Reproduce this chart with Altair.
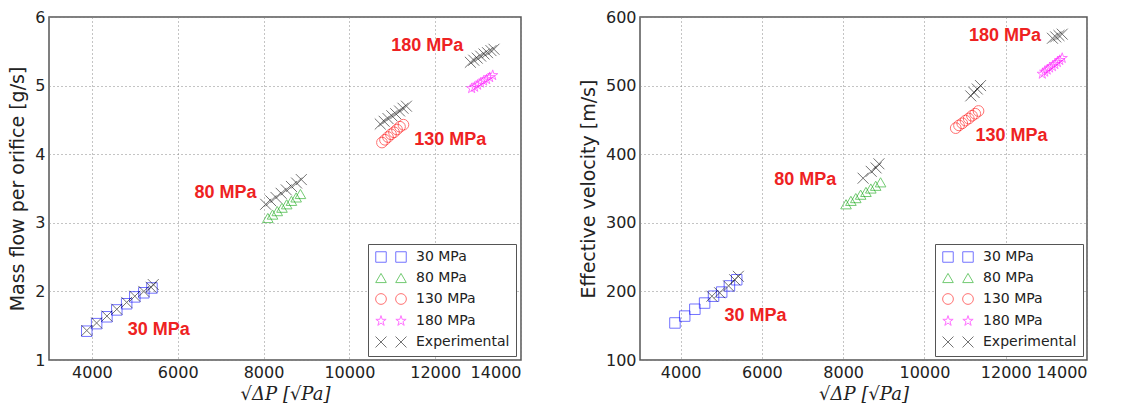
import altair as alt
import pandas as pd

SERIES = ["30 MPa", "80 MPa", "130 MPa", "180 MPa", "Experimental"]
COLORS = ["#0000ff", "#00a000", "#ff0000", "#ff00ff", "#000000"]
STAR = "M0,-1L0.2234,-0.3074L0.9511,-0.309L0.3614,0.1174L0.5878,0.809L0,0.38L-0.5878,0.809L-0.3614,0.1174L-0.9511,-0.309L-0.2234,-0.3074Z"
XMARK = "M-1,-1L1,1M-1,1L1,-1"
SHAPES = ["square", "triangle-up", "circle", STAR, XMARK]
SIZES = [110, 120, 100, 110, 150]

# ---- Left panel: mass flow per orifice [g/s]
mf_sq_x = [3880, 4110, 4350, 4580, 4810, 5000, 5210, 5400]
mf_sq_y = [1.42, 1.53, 1.63, 1.73, 1.82, 1.92, 1.98, 2.05]
mf_exp30_x = [3880, 4110, 4350, 4580, 4810, 5000, 5210, 5380, 5430]
mf_exp30_y = [1.43, 1.54, 1.64, 1.74, 1.84, 1.93, 2.00, 2.06, 2.10]
mf_tri_x = [8100, 8210, 8320, 8430, 8540, 8650, 8760, 8860]
mf_tri_y = [3.07, 3.12, 3.17, 3.22, 3.27, 3.32, 3.37, 3.42]
mf_exp80_x = [8050, 8170, 8290, 8410, 8530, 8650, 8770, 8880]
mf_exp80_y = [3.27, 3.32, 3.37, 3.43, 3.48, 3.53, 3.58, 3.63]
mf_ci_x = [10760, 10830, 10900, 10970, 11040, 11110, 11180, 11260]
mf_ci_y = [4.17, 4.21, 4.25, 4.29, 4.32, 4.36, 4.40, 4.43]
mf_exp130_x = [10720, 10810, 10900, 10990, 11080, 11170, 11250, 11330]
mf_exp130_y = [4.44, 4.48, 4.52, 4.56, 4.59, 4.63, 4.67, 4.70]
mf_st_x = [12850, 12920, 12990, 13060, 13130, 13200, 13270, 13340]
mf_st_y = [4.96, 4.98, 5.01, 5.04, 5.07, 5.09, 5.12, 5.15]
mf_exp180_x = [12820, 12900, 12980, 13060, 13140, 13220, 13300, 13370]
mf_exp180_y = [5.34, 5.37, 5.40, 5.43, 5.46, 5.48, 5.51, 5.53]
mf_lab_text = ["30 MPa", "80 MPa", "130 MPa", "180 MPa"]
mf_lab_x = [5560, 7116, 12350, 11814]
mf_lab_y = [1.44, 3.43, 4.21, 5.58]

# ---- Right panel: effective velocity [m/s]
v_sq_x = [3860, 4100, 4350, 4590, 4810, 5010, 5200, 5380]
v_sq_y = [154, 164, 174, 183, 193, 199, 208, 217]
v_exp30_x = [4770, 4960, 5180, 5330, 5420]
v_exp30_y = [193, 198, 208, 217, 222]
v_tri_x = [8070, 8190, 8310, 8430, 8560, 8680, 8800, 8920]
v_tri_y = [327, 332, 336, 341, 345, 350, 354, 359]
v_exp80_x = [8490, 8690, 8810, 8880]
v_exp80_y = [365, 375, 380, 386]
v_ci_x = [10770, 10850, 10930, 11010, 11090, 11170, 11250, 11330]
v_ci_y = [438, 442, 445, 449, 452, 456, 459, 463]
v_exp130_x = [11140, 11220, 11300, 11380]
v_exp130_y = [485, 490, 495, 500]
v_st_x = [12900, 12960, 13020, 13080, 13150, 13210, 13270, 13330, 13390]
v_st_y = [517, 520, 523, 526, 528, 531, 534, 537, 540]
v_exp180_x = [13150, 13230, 13310, 13390]
v_exp180_y = [569, 571, 573, 575]
v_lab_text = ["30 MPa", "80 MPa", "130 MPa", "180 MPa"]
v_lab_x = [5843, 7069, 12142, 11983]
v_lab_y = [164, 363, 427, 572]


def build_df(groups):
    rows = []
    for name, xs, ys in groups:
        for x, y in zip(xs, ys):
            rows.append({"series": name, "x": x, "y": y})
    return pd.DataFrame(rows)


mf_df = build_df([
    ("30 MPa", mf_sq_x, mf_sq_y), ("80 MPa", mf_tri_x, mf_tri_y),
    ("130 MPa", mf_ci_x, mf_ci_y), ("180 MPa", mf_st_x, mf_st_y),
    ("Experimental", mf_exp30_x, mf_exp30_y), ("Experimental", mf_exp80_x, mf_exp80_y),
    ("Experimental", mf_exp130_x, mf_exp130_y), ("Experimental", mf_exp180_x, mf_exp180_y),
])
v_df = build_df([
    ("30 MPa", v_sq_x, v_sq_y), ("80 MPa", v_tri_x, v_tri_y),
    ("130 MPa", v_ci_x, v_ci_y), ("180 MPa", v_st_x, v_st_y),
    ("Experimental", v_exp30_x, v_exp30_y), ("Experimental", v_exp80_x, v_exp80_y),
    ("Experimental", v_exp130_x, v_exp130_y), ("Experimental", v_exp180_x, v_exp180_y),
])
mf_lab = pd.DataFrame({"t": mf_lab_text, "x": mf_lab_x, "y": mf_lab_y})
v_lab = pd.DataFrame({"t": v_lab_text, "x": v_lab_x, "y": v_lab_y})


def panel(df, lab, ydom, yticks, ytitle, width, legx, legy):
    xenc = alt.X("x:Q", scale=alt.Scale(domain=[3000, 14000], nice=False),
                 axis=alt.Axis(values=[4000, 6000, 8000, 10000, 12000, 14000], format="d",
                               title="√ΔP   [√Pa]"))
    yenc = alt.Y("y:Q", scale=alt.Scale(domain=ydom, nice=False, zero=False),
                 axis=alt.Axis(values=yticks, format="d", title=ytitle))

    def enc(legend):
        return dict(
            color=alt.Color("series:N", scale=alt.Scale(domain=SERIES, range=COLORS), legend=legend),
            shape=alt.Shape("series:N", scale=alt.Scale(domain=SERIES, range=SHAPES), legend=legend),
            size=alt.Size("series:N", scale=alt.Scale(domain=SERIES, range=SIZES), legend=legend),
        )

    leg_box = alt.Legend(orient="none", legendX=legx, legendY=legy, title=None,
                         fillColor="white", strokeColor="#555", padding=6,
                         labelOpacity=0, labelOffset=28, labelFontSize=14,
                         labelFont="DejaVu Sans", rowPadding=6, symbolStrokeWidth=1)
    leg_txt = alt.Legend(orient="none", legendX=legx + 20, legendY=legy, title=None,
                         padding=6, labelOffset=8, labelFontSize=14, labelColor="#222",
                         labelFont="DejaVu Sans", rowPadding=6, symbolStrokeWidth=1)

    pts = alt.Chart(df).mark_point(filled=False, opacity=0.55, strokeWidth=1).encode(
        x=xenc, y=yenc, **enc(leg_box))
    ghost = alt.Chart(df).transform_filter("datum.x < 0").mark_point(
        filled=False, opacity=0.55, strokeWidth=1).encode(x=xenc, y=yenc, **enc(leg_txt))
    txt = alt.Chart(lab).mark_text(font="Liberation Sans", fontWeight="bold", fontSize=18,
                                   color="#ee2222").encode(x="x:Q", y="y:Q", text="t:N")
    return alt.layer(pts, ghost, txt).resolve_scale(
        color="independent", shape="independent", size="independent"
    ).properties(width=width, height=343)


left = panel(mf_df, mf_lab, [1, 6], [1, 2, 3, 4, 5, 6], "Mass flow per orifice  [g/s]", 472, 319, 227)
right = panel(v_df, v_lab, [100, 600], [100, 200, 300, 400, 500, 600], "Effective velocity  [m/s]", 447, 295, 227)

chart = alt.hconcat(left, right, spacing=56).properties(
    padding={"left": 8, "top": 8, "right": 5, "bottom": 5}
).configure(background="white").configure_view(
    stroke="#555", strokeWidth=1.5
).configure_axis(
    labelFont="DejaVu Sans", labelFontSize=16, labelColor="#222", ticks=False,
    labelPadding=4, domain=False, grid=True, gridDash=[1, 3], gridColor="#888",
    titleFont="DejaVu Sans", titleFontSize=19, titleFontWeight="normal", titleColor="#222",
    labelOverlap=False
).configure_axisY(titlePadding=7).configure_axisX(
    titleFont="DejaVu Serif", titleFontSize=18, titleFontStyle="italic", titlePadding=5
)

chart.save("out.html", embed_options={"renderer": "svg", "actions": False})
